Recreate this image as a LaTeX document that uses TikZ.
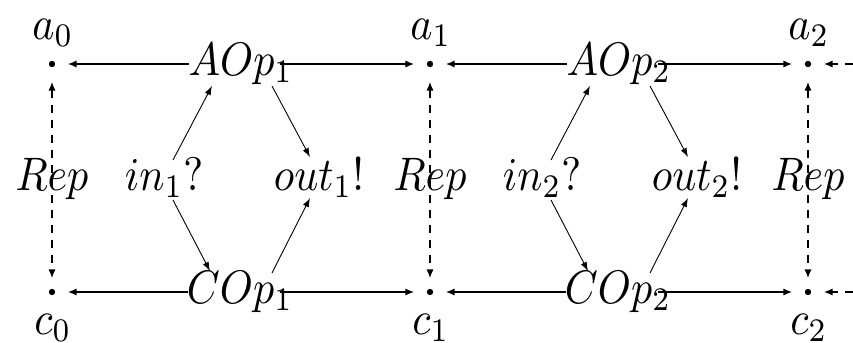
\documentclass[tikz,border=0pt]{standalone}
\usepackage{graphicx}
\usetikzlibrary{arrows.meta}
\newcommand{\dtext}[1]{\scalebox{2.1}[2.35]{$#1$}}
\begin{document}
\begin{tikzpicture}[x=0.5pt,y=-0.5pt,
  lbl/.style={inner sep=0pt,anchor=base,text=black},
  dotnode/.style={circle,fill=black,inner sep=0pt,minimum size=3.2pt},
  tipA/.tip={Latex[length=4.5pt,width=3.6pt]},
  hor/.style={line width=1pt,-tipA,shorten >=6pt},
  repline/.style={line width=1pt,dash pattern=on 4pt off 3.5pt,tipA-tipA,shorten <=7pt,shorten >=5pt},
  edgeline/.style={line width=1pt,dash pattern=on 4pt off 3.5pt,-tipA,shorten >=6pt},
  dia/.style={line width=0.45pt,-{Latex[length=4.5pt,width=3.2pt]}}]
\useasboundingbox (0,0) rectangle (853,343);
% points, labels, replication arrows
\foreach \k/\x in {0/52,1/430,2/808}{
  \node[dotnode] (a\k) at (\x,64) {};
  \node[dotnode] (c\k) at (\x,292) {};
  \node[lbl] (la\k) at (\x+1,39) {\dtext{a_{\k}}};
  \node[lbl] (lc\k) at (\x+1,334) {\dtext{c_{\k}}};
  \node[lbl] (rep\k) at (\x,190) {\dtext{Rep}};
  \draw[repline] (a\k) -- (c\k);
}
% dashed arrows entering from the right edge
\coordinate (ea) at (853,64);
\coordinate (ec) at (853,292);
\draw[edgeline] (ea) -- (a2);
\draw[edgeline] (ec) -- (c2);
% the two operation blocks
\foreach \i/\o in {1/0,2/378}{
  \pgfmathtruncatemacro\p{\i-1}
  \node[lbl] (AOp\i) at (241+\o,75) {\dtext{AOp_{\i}}};
  \node[lbl] (COp\i) at (240+\o,303) {\dtext{COp_{\i}}};
  \node[lbl] (in\i) at (164+\o,190) {\dtext{in_{\i}?}};
  \node[lbl] (out\i) at (319+\o,190) {\dtext{out_{\i}!}};
  \coordinate (AW\i) at (189+\o,64);
  \coordinate (AE\i) at (280+\o,64);
  \coordinate (CW\i) at (188+\o,292);
  \coordinate (CE\i) at (280+\o,292);
  \draw[hor] (AW\i) -- (a\p);
  \draw[hor] (AE\i) -- (a\i);
  \draw[hor] (CW\i) -- (c\p);
  \draw[hor] (CE\i) -- (c\i);
  \coordinate (inAs\i) at (173+\o,160);
  \coordinate (inAt\i) at (212+\o,86);
  \coordinate (inCs\i) at (173+\o,200);
  \coordinate (inCt\i) at (210+\o,271);
  \coordinate (Aouts\i) at (272+\o,86);
  \coordinate (Aoutt\i) at (310+\o,157);
  \coordinate (Couts\i) at (272+\o,273);
  \coordinate (Coutt\i) at (310+\o,198);
  \draw[dia] (inAs\i) -- (inAt\i);
  \draw[dia] (inCs\i) -- (inCt\i);
  \draw[dia] (Aouts\i) -- (Aoutt\i);
  \draw[dia] (Couts\i) -- (Coutt\i);
}
\end{tikzpicture}
\end{document}
